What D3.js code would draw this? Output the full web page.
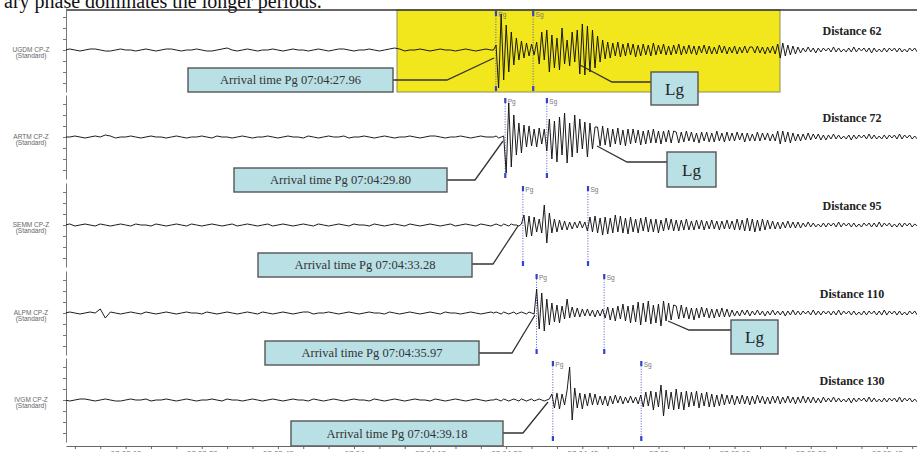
<!DOCTYPE html>
<html lang="en">
<head>
<meta charset="UTF-8">
<title>Regional seismograms - Pg and Lg arrivals</title>
<script src="https://d3js.org/d3.v7.min.js"></script>
<style>
  body { margin: 0; background: #fff; }
  svg { display: block; }
  .serif { font-family: "Liberation Serif", "Times New Roman", serif; }
  .sans { font-family: "Liberation Sans", "DejaVu Sans", sans-serif; }
</style>
</head>
<body>
<div id="chart"></div>
<script>
// ---- data ----
var stations = ["UGDM CP-Z", "ARTM CP-Z", "SEMM CP-Z", "ALPM CP-Z", "IVGM CP-Z"];
var distances = [62, 72, 95, 110, 130];
var pgLabels = ["07:04:27.96", "07:04:29.80", "07:04:33.28", "07:04:35.97", "07:04:39.18"];
// seconds after 07:04:00
var pgTimes = [27.96, 29.80, 33.28, 35.97, 39.18];
var sgTimes = [35.3, 38.0, 46.1, 49.3, 56.6];

// pre-event noise, 1 s samples from 07:03:03
var pre1 = [0,1,0,-1,0,1,1,0,-1,-1,0,1,0,0,-1,0,1,0,-1,0,
  1,1,0,-1,0,0,1,0,-1,-1,0,1,2,0,-1,0,1,0,-1,0,
  0,1,0,-1,0,1,0,0,-1,0,1,0,-1,0,1,1,0,-1,0,0,
  1,0,-1,0,1,2,1,-1,0,0,1,0,-1,0,1,0,0,-1,0,1,
  0,-1,0,1,0];
var pre2 = [0,0,1,0,-1,0,1,0,2,1,-1,0,0,1,0,-1,0,1,0,0,
  -1,0,1,0,-1,0,0,1,0,-1,1,0,0,-1,0,1,0,-1,0,0,
  1,0,-1,0,1,0,0,-1,1,0,-1,0,1,0,0,1,-1,0,0,1,
  0,-1,0,1,0,-1,0,0,1,0,-1,0,1,1,0,-1,0,0,1,0,
  -1,0,1,0,0];
var pre3 = [0,1,-1,0,1,0,-1,1,0,-1,0,1,0,-1,1,0,0,-1,1,0,
  -1,0,1,0,-1,1,0,-1,0,1,0,-1,0,1,-1,0,1,0,-1,0,
  1,-1,0,1,0,-1,0,1,0,-1,1,0,-1,0,1,0,-1,1,0,0,
  -1,1,0,-1,0,1,0,-1,1,0,-1,0,1,0,-1,0,1,-1,0,1,
  0,-1,1,0,-1];
var pre4 = [0,1,0,-1,0,1,0,4,-5,1,0,-1,0,1,0,-1,1,0,-1,0,
  1,0,-1,0,1,0,0,-1,1,0,-1,0,1,0,-1,0,1,0,-1,1,
  0,-1,0,1,0,-1,0,1,1,-1,0,0,1,0,-1,0,1,0,-1,0,
  1,0,0,-1,1,0,-1,0,1,0,-1,0,1,0,-1,1,0,0,-1,0,
  1,0,-1,0,1];
var pre5 = [0,-1,0,1,1,0,-1,0,1,0,-1,-1,0,1,0,0,1,-1,0,0,
  1,0,-1,0,1,0,-1,0,0,1,0,-1,1,0,0,-1,0,1,0,-1,
  0,1,0,-1,0,1,0,0,-1,1,0,-1,0,1,0,-1,0,1,0,0,
  -1,1,0,-1,0,1,0,-1,0,1,0,0,-1,1,0,-1,0,1,0,-1,
  0,1,0,-1,0];

// event part, 0.5 s samples from 07:04:27.5
var wave1 = [0,
  5,-38,36,
  -30,25,-22,18,-15,
  12,-10,9,-8,7,-6,6,
  -5,
  8,-14,18,-10,20,-22,15,-18,12,-20,22,-14,10,-16,
  18,-12,20,-24,26,-25,24,-22,20,-18,14,-12,10,-9,8,-8,
  7,-6,8,-7,6,-6,7,-5,6,-7,5,-6,6,-5,5,-6,7,-5,5,-4,6,-5,4,-5,5,-4,6,-5,4,-4,5,-4,4,-5,4,-3,5,-4,4,-4,3,-4,5,-3,4,-4,3,-3,4,-4,3,-3,4,-3,3,
  3,-3,4,-3,3,-4,3,-3,4,-4,
  6,-8,7,-6,5,-5,4,-4,3,-3,
  2,-2,3,-2,2,-3,2,-2,2,-1,2,-2,3,-2,2,-2,1,-2,2,-2,3,-2,2,-1,2,-2,2,-3,2,-2,1,-2,2,-2,2,-1,2,-2,2,-2,1,-2,2,-1,2,-2,1,-1];
var wave2 = [0,1,-1,0,1,
  -36,34,-30,
  22,-18,14,-16,12,-10,11,
  -9,8,-10,9,-7,8,
  -14,18,-22,16,-25,20,-18,24,-26,14,-20,22,-16,18,-12,15,-20,14,-12,10,
  10,-9,11,-8,9,-10,8,-7,9,-8,7,-9,8,-7,8,-6,7,-8,6,-7,7,-6,8,-6,6,-7,6,-5,7,-6,6,
  5,-6,5,-5,6,-4,5,-5,4,-6,5,-4,5,-5,4,-5,6,-4,4,-5,5,-4,4,-4,5,-3,4,-5,4,-4,3,-4,5,-4,4,-3,4,-4,3,-4,
  6,-7,6,-5,5,-6,4,-4,3,-4,3,-3,4,-3,3,-2,3,-3,2,-3,
  2,-2,3,-2,2,-2,1,-2,2,-3,2,-2,2,-1,2,-2,3,-2,2,-2,1,-2,2,-2,2,-1,2,-2,3,-2,2,-1,2,-2,1,-2,2,-1];
var wave3 = [0,1,0,-1,1,0,-1,1,0,0,-1,1,
  10,-12,9,-11,8,-7,
  6,-8,20,-18,12,
  -8,6,-7,5,-5,4,-5,3,-4,3,-3,4,-3,3,
  -6,8,-7,9,-8,7,-10,8,-9,7,-8,10,-7,9,-8,7,-9,8,-7,6,-8,7,-6,8,-7,6,-7,6,-8,5,-6,7,-5,6,-6,
  5,-6,5,-5,6,-5,4,-5,5,-4,5,-5,4,-4,5,-4,4,-5,4,-4,5,-4,4,-5,6,-5,5,-6,7,-6,6,-7,5,-6,6,-5,5,-4,4,-4,3,-4,3,-3,4,-3,3,-3,3,-3,
  2,-2,3,-2,2,-2,1,-2,2,-2,2,-1,2,-2,3,-2,2,-1,2,-2,2,-2,1,-2,2,-1,2,-2,2,-2,3,-2,2,-1,2,-2,1,-2,2,-2,2,-1,2,-2,1,-1,2,-1];
var wave4 = [0,1,0,-1,1,0,-1,0,1,-1,0,1,0,-1,1,0,-1,
  24,-16,20,-18,14,-12,
  10,-9,8,-10,7,-6,14,-5,6,
  -4,5,-4,4,-3,4,-3,3,-4,3,-3,4,
  -5,6,-7,5,-8,7,-6,9,-8,7,-10,8,-9,11,-12,10,-9,12,-11,8,-10,9,-13,12,-8,10,-7,8,
  7,-6,8,-5,6,-6,5,-7,5,-5,6,-4,5,-5,4,-5,4,-4,5,-4,4,-4,
  3,-3,2,-3,3,-2,3,-3,2,-2,3,-2,2,-3,2,-2,3,-2,2,-2,2,-3,2,-2,3,-2,2,-2,2,-1,2,-2,3,-2,2,-2,2,-1,2,-2,2,-2,3,-2,2,-1,2,-2,2,-2,1,-2,2,-2,2,-1,2,-2,2,-2,3,-2,2,-1,2,-2,2,-2,1,-2,2,-1,2,-2,1,-1];
var wave5 = [0,1,0,-1,1,0,-1,0,1,0,-1,1,0,-1,0,1,-1,0,1,0,-1,0,1,
  6,-8,7,-9,6,-5,
  10,33,-20,12,
  -8,7,-9,6,-6,7,-5,6,-5,4,-5,4,-6,4,-4,5,-3,4,-4,3,-3,4,-3,3,-4,
  5,-7,8,-6,9,-10,8,-7,15,-16,10,-9,8,-10,11,-9,8,-10,9,-7,8,-6,9,-8,7,-6,8,-7,6,-7,5,-6,6,-5,
  5,-4,5,-5,4,-4,5,-4,4,-5,4,-4,5,-3,4,-4,3,-4,4,-3,4,-4,3,-3,4,-3,3,-4,3,-3,4,-3,3,-3,3,-3,2,-3,3,-2,
  2,-2,3,-2,2,-2,1,-2,2,-3,2,-2,2,-1,2,-2,3,-2,2,-2,1,-2,2,-2,2,-1,2,-2,3,-2,2,-1,2,-2,1,-2,2,-1];

var preTraces = [pre1, pre2, pre3, pre4, pre5];
var waveTraces = [wave1, wave2, wave3, wave4, wave5];

// ---- layout ----
var W = 917, H = 452;
var baselines = [50, 137, 225, 313, 400];
var preStart = -57, preStep = 1, waveStart = 27.5, waveStep = 0.5;

// annotation boxes (layout only)
var arrivalBoxes = [
  {x: 188, y: 68, w: 205, h: 24, elbow: [447, 80], end: [494, 58]},
  {x: 234, y: 168, w: 213, h: 24, elbow: [475, 180], end: [503, 141]},
  {x: 258, y: 253, w: 214, h: 24, elbow: [493, 264], end: [518, 226]},
  {x: 265, y: 341, w: 214, h: 24, elbow: [512, 353], end: [535, 315]},
  {x: 291, y: 421, w: 212, h: 25, elbow: [523, 433], end: [548, 402]}
];
var lgBoxes = [
  {x: 651, y: 72, w: 47, h: 33, pts: [[580, 65], [612, 82], [651, 82]]},
  {x: 667, y: 152, w: 49, h: 35, pts: [[597, 146], [627, 162], [667, 162]]},
  {x: 731, y: 320, w: 47, h: 34, pts: [[668, 321], [689, 330], [731, 330]]}
];

var base = new Date(2000, 0, 1, 7, 4, 0).getTime();
function toDate(s) { return new Date(base + s * 1000); }

var x = d3.scaleTime()
  .domain([toDate(-56.75), toDate(110.95)])
  .range([66, 917]);

var svg = d3.select("#chart").append("svg")
  .attr("width", W).attr("height", H);

svg.append("defs").append("clipPath").attr("id", "plotclip")
  .append("rect").attr("x", 66).attr("y", 0).attr("width", W - 66).attr("height", H);

// caption remnant from the page above
svg.append("text").attr("class", "serif")
  .attr("x", 4).attr("y", 7.5)
  .style("font-size", "20px").attr("fill", "#111")
  .text("ary phase dominates the longer periods.");

// highlight box on the first trace
svg.append("rect")
  .attr("x", 397).attr("y", 10).attr("width", 383).attr("height", 82)
  .attr("fill", "#f2e61c").attr("stroke", "#8a8a60").attr("stroke-width", 1);

// top frame line
svg.append("line")
  .attr("x1", 66).attr("x2", W).attr("y1", 10).attr("y2", 10)
  .attr("stroke", "#333").attr("stroke-width", 1.5);

var fmtFull = d3.timeFormat("%H:%M:%S"), fmtMin = d3.timeFormat("%H:%M");

stations.forEach(function(name, k) {
  var b = baselines[k];
  var y = d3.scaleLinear().domain([-42, 42]).range([b + 42, b - 42]);

  // small amplitude axis on the left
  svg.append("g")
    .attr("transform", "translate(66,0)")
    .call(d3.axisLeft(y).tickValues([-33, -22, -11, 0, 11, 22, 33]).tickSize(3).tickSizeOuter(0).tickFormat(""))
    .call(function(g) { g.selectAll("path, line").attr("stroke", "#777"); });

  // station label
  var lab = svg.append("text").attr("class", "sans")
    .attr("text-anchor", "middle").attr("fill", "#666")
    .style("font-size", "6.5px");
  lab.append("tspan").attr("x", 31).attr("y", b + 2).text(name);
  lab.append("tspan").attr("x", 31).attr("y", b + 8).text("(Standard)");

  // distance label
  svg.append("text").attr("class", "serif")
    .attr("x", 852).attr("y", b - 15)
    .attr("text-anchor", "middle")
    .style("font-size", "12px").style("font-weight", "bold").attr("fill", "#222")
    .text("Distance " + distances[k]);

  // Pg / Sg markers
  [["Pg", pgTimes[k]], ["Sg", sgTimes[k]]].forEach(function(m) {
    var mx = x(toDate(m[1]));
    var top = b - 39, bot = b + 41;
    svg.append("line")
      .attr("x1", mx).attr("x2", mx).attr("y1", top).attr("y2", bot)
      .attr("stroke", "#3a48c8").attr("stroke-width", 0.9).attr("stroke-dasharray", "1,1.6");
    svg.append("rect").attr("x", mx - 1).attr("y", top).attr("width", 2.2).attr("height", 5).attr("fill", "#3344cc");
    svg.append("rect").attr("x", mx - 1).attr("y", bot - 5).attr("width", 2.2).attr("height", 5).attr("fill", "#3344cc");
    svg.append("text").attr("class", "sans")
      .attr("x", mx + 2.5).attr("y", top + 5.5)
      .style("font-size", "6.5px").attr("fill", "#777")
      .text(m[0]);
  });

  // trace
  var pts = preTraces[k].map(function(v, j) { return [preStart + j * preStep, v]; })
    .concat(waveTraces[k].map(function(v, j) { return [waveStart + j * waveStep, v]; }));
  var line = d3.line()
    .x(function(d) { return x(toDate(d[0])); })
    .y(function(d) { return y(d[1]); });
  svg.append("path")
    .datum(pts)
    .attr("clip-path", "url(#plotclip)")
    .attr("d", line)
    .attr("fill", "none").attr("stroke", "#111").attr("stroke-width", 0.95)
    .attr("stroke-linejoin", "round");
});

// arrival time callouts
arrivalBoxes.forEach(function(bx, k) {
  svg.append("path")
    .attr("d", d3.line()([[bx.x + bx.w, bx.elbow[1]], bx.elbow, bx.end]))
    .attr("fill", "none").attr("stroke", "#333").attr("stroke-width", 1.3);
  svg.append("rect")
    .attr("x", bx.x).attr("y", bx.y).attr("width", bx.w).attr("height", bx.h)
    .attr("fill", "#b9e0e5").attr("stroke", "#555").attr("stroke-width", 1.4);
  svg.append("text").attr("class", "serif")
    .attr("x", bx.x + bx.w / 2).attr("y", bx.y + bx.h / 2 + 4)
    .attr("text-anchor", "middle")
    .style("font-size", "12.5px").attr("fill", "#333")
    .text("Arrival time Pg " + pgLabels[k]);
});

// Lg callouts
lgBoxes.forEach(function(bx) {
  svg.append("path")
    .attr("d", d3.line()(bx.pts))
    .attr("fill", "none").attr("stroke", "#333").attr("stroke-width", 1.3);
  svg.append("rect")
    .attr("x", bx.x).attr("y", bx.y).attr("width", bx.w).attr("height", bx.h)
    .attr("fill", "#b9e0e5").attr("stroke", "#555").attr("stroke-width", 1.4);
  svg.append("text").attr("class", "serif")
    .attr("x", bx.x + bx.w / 2).attr("y", bx.y + bx.h / 2 + 6)
    .attr("text-anchor", "middle")
    .style("font-size", "17px").attr("fill", "#222")
    .text("Lg");
});

// time axis at the bottom
var xAxis = d3.axisBottom(x)
  .ticks(d3.timeSecond.every(5))
  .tickSize(3).tickSizeOuter(0).tickPadding(1)
  .tickFormat(function(d) {
    if (d.getSeconds() % 15 !== 0) return "";
    return d.getSeconds() === 0 ? fmtMin(d) : fmtFull(d);
  });
svg.append("g")
  .attr("transform", "translate(0,446)")
  .call(xAxis)
  .call(function(g) {
    g.selectAll("path, line").attr("stroke", "#666");
    g.selectAll("text").attr("fill", "#777").style("font-size", "8px")
      .style("font-family", "Liberation Sans, DejaVu Sans, sans-serif");
  });
</script>
</body>
</html>
